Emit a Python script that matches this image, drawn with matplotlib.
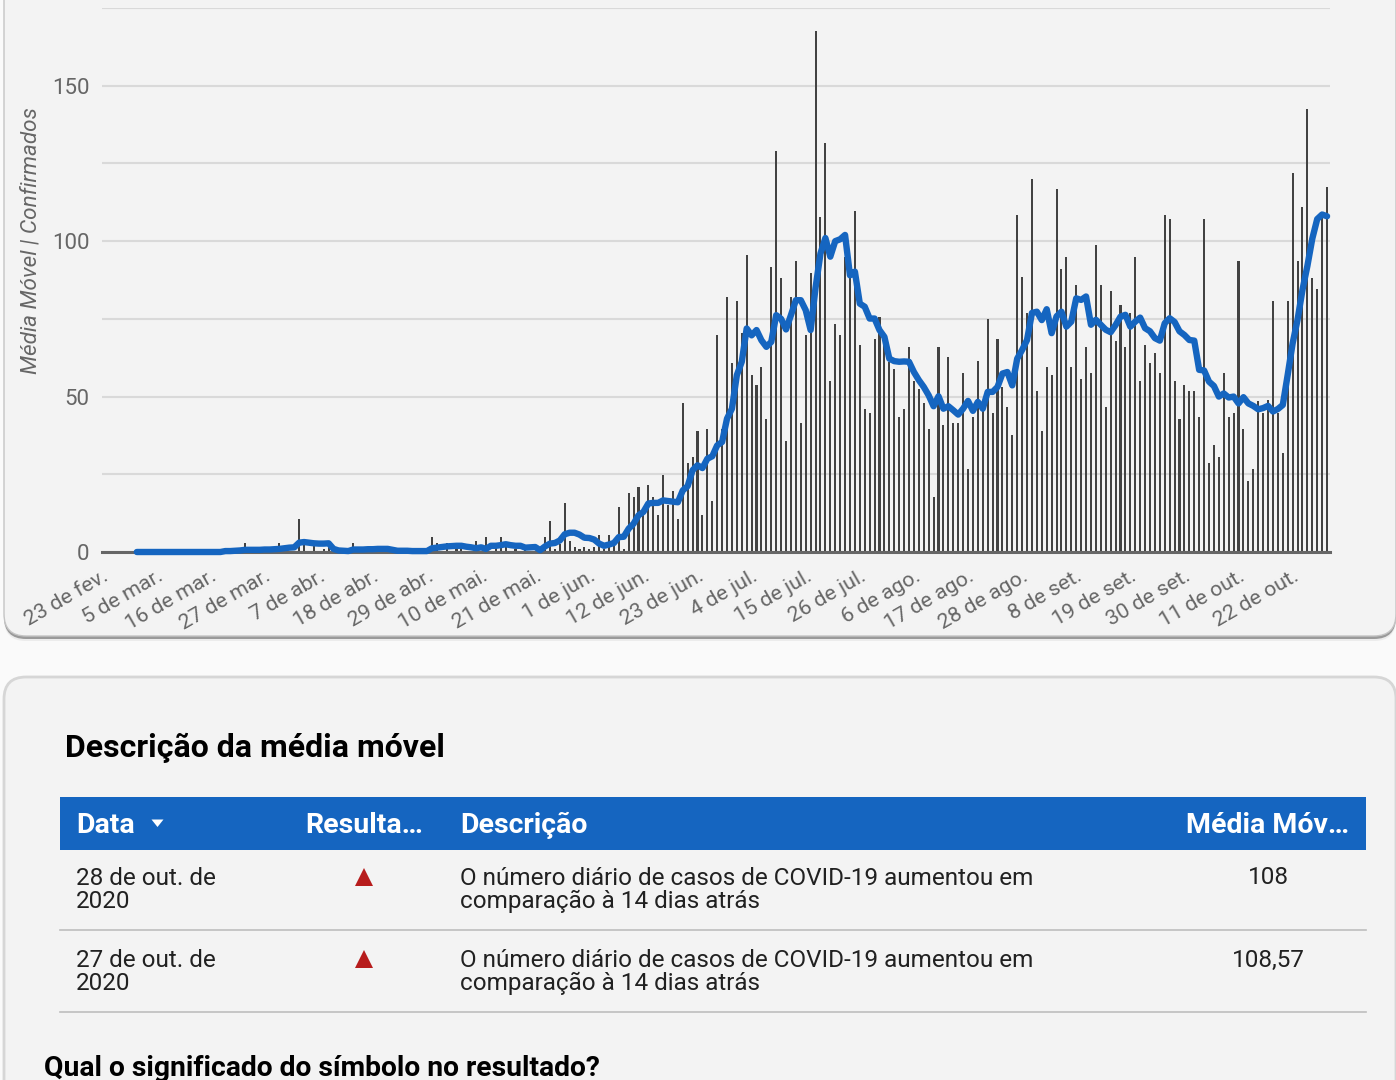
# casos diarios e media movel - covid
import pandas as pd
import matplotlib
matplotlib.use("Agg")
import matplotlib.pyplot as plt
from matplotlib.patches import FancyBboxPatch, Rectangle
from matplotlib.transforms import ScaledTranslation

plt.rcParams['font.family'] = ['Roboto', 'DejaVu Sans']

# the daily series, starts on 23 de fev.
dias = pd.date_range("2020-02-23", "2020-10-28")

confirmados = [
    0, 0, 0, 0, 0, 0, 0, 0, 0, 0,
    0, 0, 0, 0, 0, 0, 0, 0, 0, 0,
    0, 0, 0, 0, 0, 0, 0, 0, 2.8, 0,
    0, 0, 0, 0, 0, 2.8, 0, 0, 0, 10.5,
    3, 0, 3, 0, 1, 2.5, 0, 0, 0, 0,
    2.8, 0, 0, 0, 0, 0, 0, 0, 0, 0,
    0, 0, 0, 0, 0, 0, 4.7, 2.8, 0, 2.8,
    0, 1.5, 2, 0, 0, 3.4, 0, 4.7, 0, 1.5,
    4.7, 2.5, 0, 1, 0, 1, 0, 0, 0,
    4.8, 9.9, 0.9, 2.7, 15.7, 3.4, 1.5, 0.9, 1.5, 0.9,
    1.5, 5.4, 0.9, 5.4, 2, 14.4, 0.9, 18.9, 17.6, 20.8,
    12, 21.5, 17.6, 12, 24.7, 15, 19.5, 10.5, 47.9, 28.5,
    30.5, 38.8, 11.8, 39.5, 16.3, 69.7, 39.5, 82, 60.7, 80.7,
    70.4, 95.6, 56.9, 53.6, 59.4, 42.7, 91.7, 129, 88, 35.6,
    82, 93.5, 41.4, 69.7, 89.8, 167.7, 107.8, 131.6, 54.9, 73.4,
    69.7, 95, 88, 109.7, 66.5, 46, 44.6, 68.5, 75.5, 70,
    61, 58.8, 43.3, 46, 65.9, 55, 52.4, 47.9, 39.5, 17.6,
    65.9, 40.8, 62.7, 41.4, 41.4, 57.5, 26.6, 43.3, 61.4, 46,
    74.9, 44.6, 68.5, 53, 46.6, 37.6, 108.5, 88.5, 76.9, 120,
    51.8, 38.9, 59.5, 56.9, 116.8, 91, 94.9, 59.5, 85.9, 55.7,
    66, 57.6, 98.8, 85.9, 46.7, 84, 68, 79.5, 66, 76.9,
    94.9, 55, 66.6, 60.8, 64, 57.6, 108.5, 107, 55, 42.8,
    53.7, 51.8, 51.8, 43.4, 107, 28.7, 34.5, 30.6, 57.6, 43.4,
    44.7, 93.7, 39.6, 22.9, 26.8, 48.6, 44.7, 49, 80.8, 44.7,
    32, 80.8, 122, 93.7, 111, 142.6, 88, 84.7, 108.5, 117.4,
]

# media movel only starts on the 7th day
media_inicio = 6
media_movel = [
    0, 0, 0, 0, 0, 0, 0, 0, 0, 0, 0, 0, 0, 0, 0, 0, 0, 0,
    .3, .3, .4, .5, .7, .7, .7, .7, .8, .8, .9, 1, 1.2, 1.4, 1.5, 3, 3.2, 3,
    2.8, 2.7, 2.7, 2.8, 1, .5, .4, .3, .8, .8, .8, .9, .9, 1, 1, 1, .7, .4,
    .4, .4, .3, .3, .3, .3, 1.2, 1.4, 1.6, 1.8, 1.9, 2, 2, 1.7, 1.5, 1.2,
    1.5, 1, 2, 2, 2.2, 2.5, 2.2, 2, 2, 1.4, 1.5, 1.6, .6,
    1.8, 2.7, 2.9, 3.7, 5.7, 6.2, 6.2, 5.6, 4.6, 4.5, 4, 2.7, 2, 2.4, 2.9,
    4.8, 4.9, 7.5, 9.1, 11.8, 12.9, 15.6, 15.8, 15.8, 16.6, 16.4, 16.2, 16,
    19.8, 21.2, 26.3, 27.9, 27, 30, 30.8, 34.3, 35.4, 42.9, 46.1, 56.9, 61.2,
    71.9, 69.7, 71.4, 68.1, 66, 67.6, 76.2, 75, 71.6, 76.2, 81, 81, 77.8, 71.4,
    85, 96, 101, 95, 100, 100.6, 102, 89, 90.2, 79.9, 78.9, 75.1, 75.1, 71.4,
    69.2, 62.2, 61.4, 61.2, 61.3, 61.2, 57.9, 55.3, 53.1, 50.4, 46.9, 50.1,
    46.1, 46.9, 45.6, 44.2, 46.1, 48.6, 45.4, 48.3, 46.1, 51.5, 51.5, 53.1,
    57.4, 57.9, 53.6, 62.2, 65, 68.2, 76.9, 77.3, 74.6, 78.1, 70.4, 75.8, 77.3,
    72.5, 74.1, 81.6, 81.1, 82.2, 73.1, 74.7, 73.1, 71.5, 70.7, 73, 75.7, 76.3,
    72.5, 74.1, 75.4, 72, 71, 68.8, 68, 73.6, 75.2, 74, 71, 69.8, 68.2, 68,
    58.6, 58.4, 54.8, 53.4, 50, 51, 49.7, 50, 47.8, 49.8, 47.8, 47, 45.9, 46.3,
    47, 45.2, 46, 47.3, 57, 67.1, 74.7, 84.3, 92, 100.8, 107.1, 108.57, 108,
]

rotulos_x = ["23 de fev.", "5 de mar.", "16 de mar.", "27 de mar.", "7 de abr.",
             "18 de abr.", "29 de abr.", "10 de mai.", "21 de mai.", "1 de jun.",
             "12 de jun.", "23 de jun.", "4 de jul.", "15 de jul.", "26 de jul.",
             "6 de ago.", "17 de ago.", "28 de ago.", "8 de set.", "19 de set.",
             "30 de set.", "11 de out.", "22 de out."]
marcas_y = [0, 50, 100, 150]
grade_y = [25, 50, 75, 100, 125, 150, 175]

# table
colunas = ["Data", "Resulta…", "Descrição", "Média Móv…"]
linhas_data = ["28 de out. de\n2020", "27 de out. de\n2020"]
linhas_desc = ["O número diário de casos de COVID-19 aumentou em\ncomparação à 14 dias atrás"] * 2
linhas_media = ["108", "108,57"]

W, H = 1396, 1080
fig = plt.figure(figsize=(W / 100, H / 100), dpi=100, facecolor="#fafafa")

# background layer in pixels, for the cards and the table
bg = fig.add_axes([0, 0, 1, 1], zorder=0)
bg.set_xlim(0, W)
bg.set_ylim(H, 0)
bg.axis("off")

cartao = "#f3f3f3"
# top card with its shadow
bg.add_patch(FancyBboxPatch((4, -60), 1392, 701, boxstyle="round,pad=0,rounding_size=22",
                            fc="#ececec", ec="none"))
bg.add_patch(FancyBboxPatch((4, -60), 1392, 699, boxstyle="round,pad=0,rounding_size=22",
                            fc="#9a9a9a", ec="none"))
bg.add_patch(FancyBboxPatch((4, -60), 1392, 696, boxstyle="round,pad=0,rounding_size=22",
                            fc=cartao, ec="#c4c4c4", lw=1))
# second card
bg.add_patch(FancyBboxPatch((4, 677), 1392, 500, boxstyle="round,pad=0,rounding_size=22",
                            fc=cartao, ec="#d6d6d6", lw=2))

bg.text(65, 748, "Descrição da média móvel", fontsize=23, fontweight="bold",
        color="#000000", va="center", ha="left")

# table header
bg.add_patch(Rectangle((60, 797), 1306, 53, fc="#1565c0", ec="none"))
bg.text(76, 825.5, colunas[0], fontsize=20.5, fontweight="bold", color="white", va="center")
bg.text(305, 825.5, colunas[1], fontsize=20.5, fontweight="bold", color="white", va="center")
bg.text(460, 825.5, colunas[2], fontsize=20.5, fontweight="bold", color="white", va="center")
bg.text(1349, 825.5, colunas[3], fontsize=20.5, fontweight="bold", color="white", va="center", ha="right")
bg.fill([151.5, 163.5, 157.5], [819.5, 819.5, 827], color="white", lw=0)

# table rows
for k in range(2):
    y0 = 877 + 82 * k
    bg.text(76, y0 + 13, linhas_data[k], fontsize=17.5, color="#212121", va="center",
            ha="left", linespacing=0.98)
    bg.text(460, y0 + 13, linhas_desc[k], fontsize=17.5, color="#212121", va="center",
            ha="left", linespacing=0.98)
    bg.text(1268, y0 + 1, linhas_media[k], fontsize=17.5, color="#212121", va="center", ha="center")
    bg.plot([364], [y0], marker="^", ms=13, color="#b71c1c", mew=0)
    bg.plot([60, 1366], [y0 + 53, y0 + 53], color="#bdbdbd", lw=1.2)

bg.text(44, 1068, "Qual o significado do símbolo no resultado?", fontsize=20.3,
        fontweight="bold", color="#000000", va="center", ha="left")

# chart, in pixels: x 102-1330, y 8-552
ax = fig.add_axes([102 / W, 1 - 552 / H, 1228 / W, 544 / H], zorder=1)
ax.patch.set_alpha(0)
ax.set_xlim(-1.08, 248.6)
ax.set_ylim(0, 175)

posicoes = list(range(len(dias)))
ax.bar(posicoes, confirmados, width=0.42, color="#424242", zorder=2)
ax.plot(posicoes[media_inicio:], media_movel, color="#1565c0", lw=4.6,
        solid_joinstyle="round", solid_capstyle="round", zorder=3, clip_on=False)

ax.set_yticks(grade_y, minor=True)
ax.set_yticks(marcas_y)
ax.set_yticklabels([str(v) for v in marcas_y], fontsize=16, color="#666666")
ax.grid(True, axis="y", which="both", color="#d9d9d9", lw=1.5, zorder=1)
ax.tick_params(axis="y", which="both", length=0, pad=9)
ax.set_xticks(posicoes[::11])
ax.set_xticklabels(rotulos_x, rotation=30, ha="right", rotation_mode="anchor",
                   fontsize=15.4, color="#666666")
ax.tick_params(axis="x", length=0, pad=9)
# the date labels sit a bit more to the left
for rotulo in ax.get_xticklabels():
    rotulo.set_transform(rotulo.get_transform() + ScaledTranslation(-5 / 100, -2 / 100, fig.dpi_scale_trans))
for lado in ["top", "left", "right"]:
    ax.spines[lado].set_visible(False)
ax.spines["bottom"].set_color("#666666")
ax.spines["bottom"].set_linewidth(2.2)

fig.text(31 / W, 1 - 241 / H, "Média Móvel | Confirmados", rotation=90, fontsize=16.2,
         style="italic", color="#666666", va="center", ha="center")

fig.savefig("out.png", dpi=100)
